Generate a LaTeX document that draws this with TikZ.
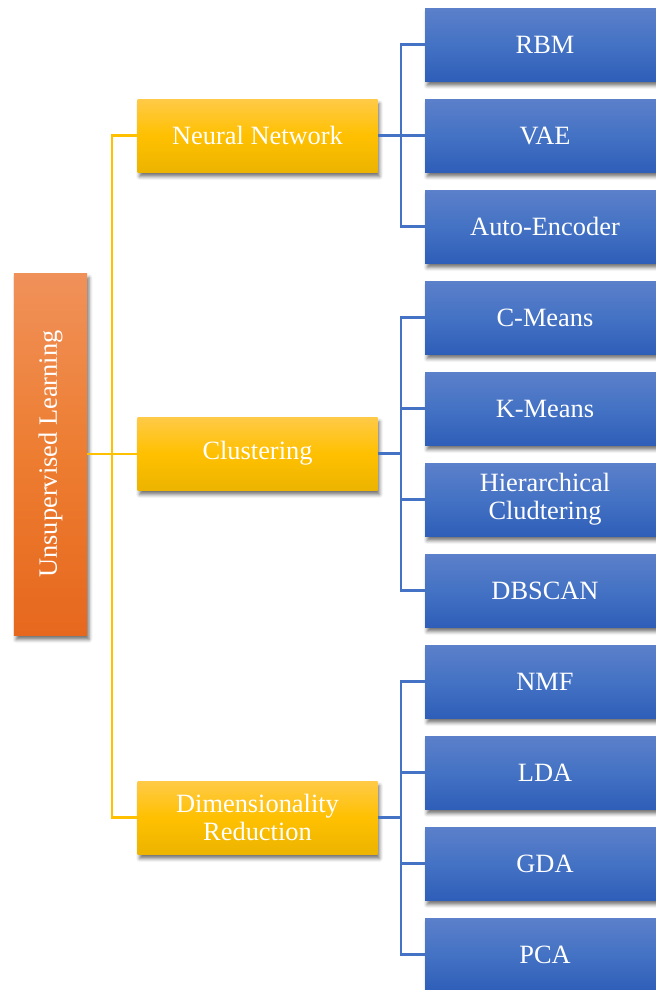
\documentclass[tikz,border=0pt]{standalone}
\usepackage{fontspec}
\setmainfont{Liberation Serif}
\usetikzlibrary{shadows.blur}

\definecolor{blueTop}{RGB}{92,128,202}
\definecolor{blueMid}{RGB}{68,114,196}
\definecolor{blueBot}{RGB}{46,94,184}
\definecolor{goldTop}{RGB}{255,202,72}
\definecolor{goldMid}{RGB}{255,192,0}
\definecolor{goldBot}{RGB}{236,180,0}
\definecolor{orTop}{RGB}{240,145,90}
\definecolor{orMid}{RGB}{237,125,49}
\definecolor{orBot}{RGB}{230,104,30}
\definecolor{goldLine}{RGB}{255,192,0}
\definecolor{blueLine}{RGB}{68,114,196}

\begin{document}
\begin{tikzpicture}[x=1bp,y=-1bp,
  box/.style={inner sep=0pt, text=white, align=center,
    font=\fontsize{26.5}{28}\selectfont,
    blur shadow={shadow xshift=2bp, shadow yshift=-4.5bp,
      shadow blur radius=3.5bp, shadow opacity=55}},
  leaf/.style={box, minimum width=240bp, minimum height=73bp,
    top color=blueTop, bottom color=blueBot, middle color=blueMid},
  group/.style={box, minimum width=240bp, minimum height=73bp,
    top color=goldTop, bottom color=goldBot, middle color=goldMid},
  rootbox/.style={box, minimum width=73bp, minimum height=362bp,
    top color=orTop, bottom color=orBot, middle color=orMid},
  yline/.style={draw=goldLine, line width=2.3bp},
  bline/.style={draw=blueLine, line width=2.3bp}]

  \clip (0,0) rectangle (656,990);

  % root
  \node[rootbox] (root) at (50.5,454) {};
  \node[rotate=90, text=white, font=\fontsize{26.5}{28}\selectfont]
    (roottext) at (root.center) {Unsupervised Learning};

  % middle level
  \node[group] (nn)  at (257.5,135.5) {Neural Network};
  \node[group] (clu) at (257.5,453.5) {Clustering};
  \node[group] (dr)  at (257.5,817.5) {Dimensionality\\Reduction};

  % leaves
  \node[leaf] (rbm) at (545,44.5)  {RBM};
  \node[leaf] (vae) at (545,135.5) {VAE};
  \node[leaf] (ae)  at (545,226.5) {Auto-Encoder};
  \node[leaf] (cm)  at (545,317.5) {C-Means};
  \node[leaf] (km)  at (545,408.5) {K-Means};
  \node[leaf] (hc)  at (545,499.5) {Hierarchical\\Cludtering};
  \node[leaf] (dbs) at (545,590.5) {DBSCAN};
  \node[leaf] (nmf) at (545,681.5) {NMF};
  \node[leaf] (lda) at (545,772.5) {LDA};
  \node[leaf] (gda) at (545,863.5) {GDA};
  \node[leaf] (pca) at (545,954.5) {PCA};

  % junction columns
  \coordinate (yj) at (112,0);
  \coordinate (bj) at (401,0);

  % root to groups
  \draw[yline] (root.east) -- (root.east -| clu.west);
  \draw[yline] (nn.west) -- (nn.west -| yj) -- (dr.west -| yj) -- (dr.west);

  % Neural Network branch
  \draw[bline] (nn.east) -- (vae.west);
  \draw[bline] (rbm.west) -- (rbm.west -| bj) -- (ae.west -| bj) -- (ae.west);

  % Clustering branch
  \draw[bline] (clu.east) -- (clu.east -| bj);
  \draw[bline] (cm.west) -- (cm.west -| bj) -- (dbs.west -| bj) -- (dbs.west);
  \draw[bline] (km.west) -- (km.west -| bj);
  \draw[bline] (hc.west) -- (hc.west -| bj);

  % Dimensionality Reduction branch
  \draw[bline] (dr.east) -- (dr.east -| bj);
  \draw[bline] (nmf.west) -- (nmf.west -| bj) -- (pca.west -| bj) -- (pca.west);
  \draw[bline] (lda.west) -- (lda.west -| bj);
  \draw[bline] (gda.west) -- (gda.west -| bj);
\end{tikzpicture}
\end{document}
